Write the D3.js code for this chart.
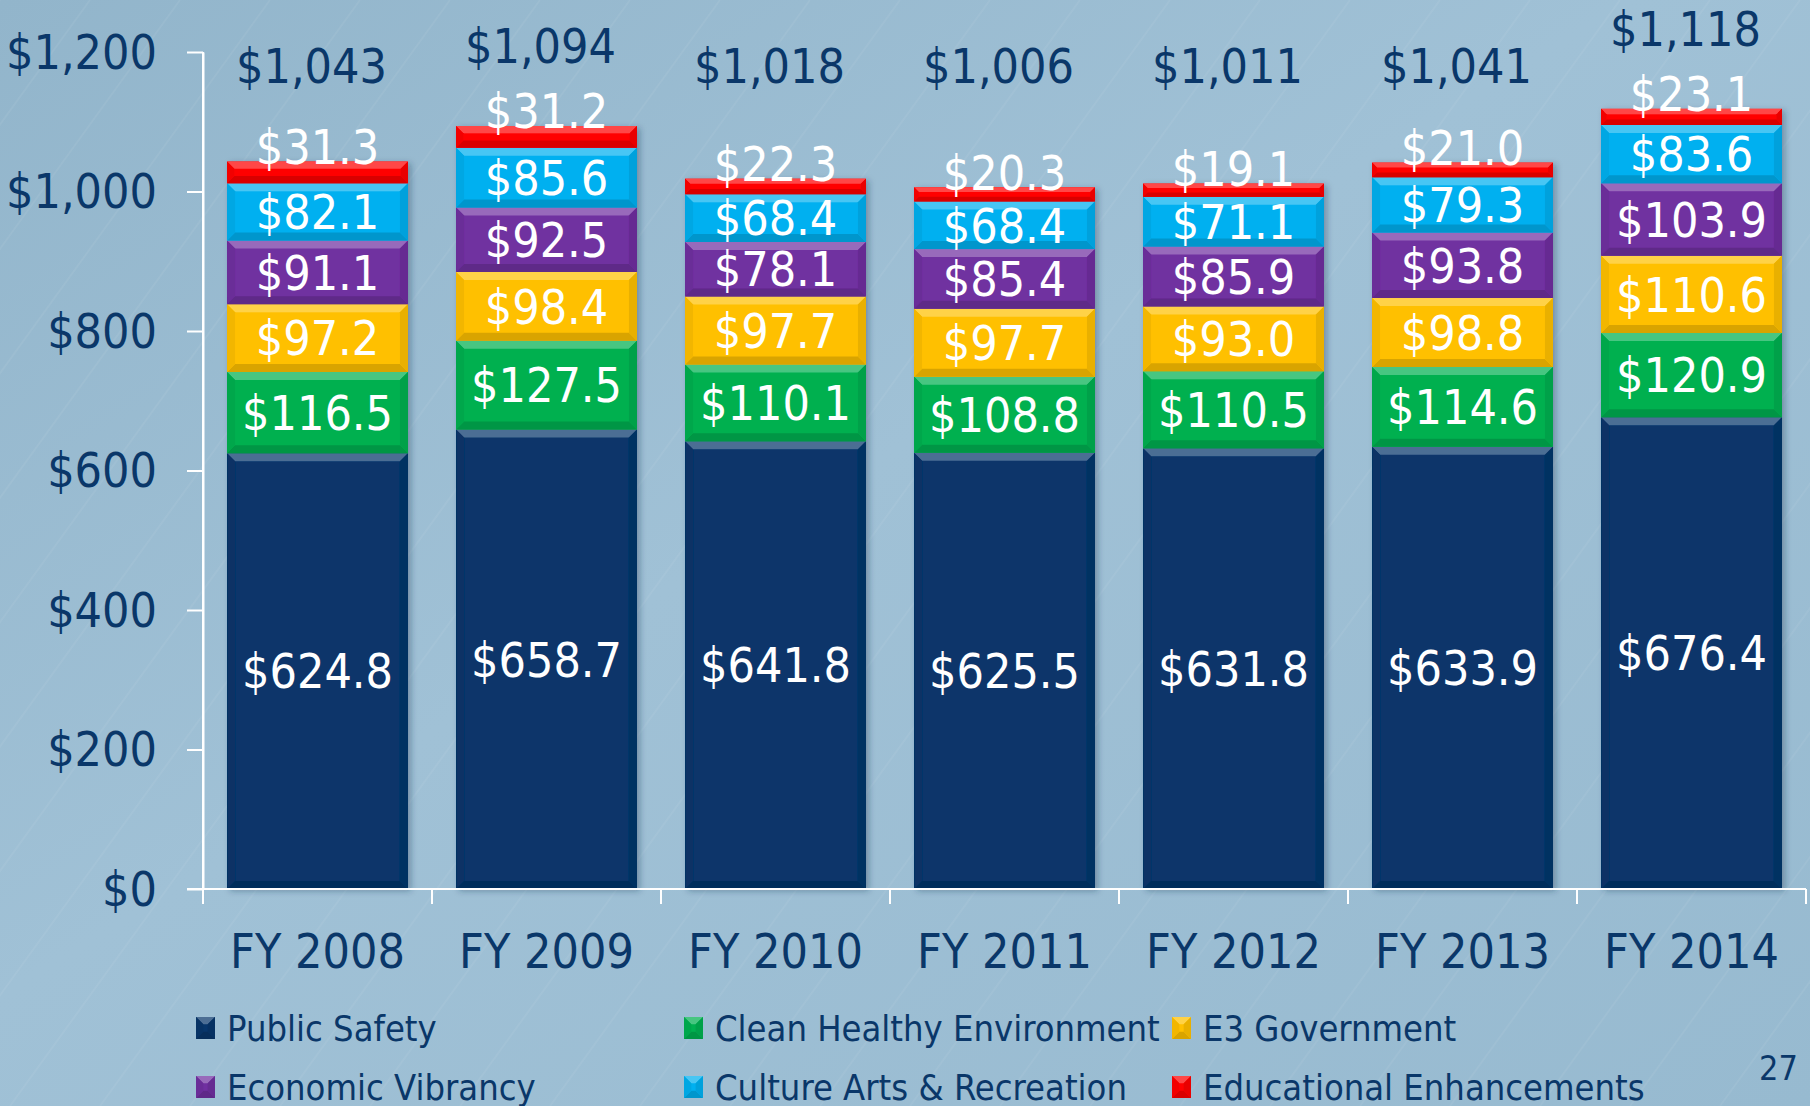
<!DOCTYPE html>
<html>
<head>
<meta charset="utf-8">
<script src="https://cdn.jsdelivr.net/npm/d3@7"></script>
<style>
  html, body { margin: 0; padding: 0; }
  body { width: 1810px; height: 1106px; overflow: hidden; }
  svg text { font-family: "DejaVu Sans Condensed", "DejaVu Sans", "Liberation Sans", sans-serif; font-stretch: condensed; }
</style>
</head>
<body>
<svg id="chart" width="1810" height="1106"></svg>
<script>
// categories + series (values in $ millions)
const years = ["FY 2008", "FY 2009", "FY 2010", "FY 2011", "FY 2012", "FY 2013", "FY 2014"];
const seriesNames = ["Public Safety", "Clean Healthy Environment", "E3 Government",
                     "Economic Vibrancy", "Culture Arts & Recreation", "Educational Enhancements"];
const seriesColors = ["#07366b", "#00b050", "#ffc000", "#7030a0", "#00b0f0", "#ff0000"];

const publicSafety   = [624.8, 658.7, 641.8, 625.5, 631.8, 633.9, 676.4];
const cleanHealthy   = [116.5, 127.5, 110.1, 108.8, 110.5, 114.6, 120.9];
const e3Government   = [97.2, 98.4, 97.7, 97.7, 93.0, 98.8, 110.6];
const econVibrancy   = [91.1, 92.5, 78.1, 85.4, 85.9, 93.8, 103.9];
const cultureArts    = [82.1, 85.6, 68.4, 68.4, 71.1, 79.3, 83.6];
const educational    = [31.3, 31.2, 22.3, 20.3, 19.1, 21.0, 23.1];
const totalLabels    = [1043, 1094, 1018, 1006, 1011, 1041, 1118];

const yTicks = [0, 200, 400, 600, 800, 1000, 1200];
const pageNumber = "27";

const seriesValues = [publicSafety, cleanHealthy, e3Government, econVibrancy, cultureArts, educational];

const navyText = "#0a3769";

const svg = d3.select("svg#chart"),
    width = +svg.attr("width"),
    height = +svg.attr("height");

// background
const defs = svg.append("defs");
const bg = defs.append("linearGradient").attr("id", "bg")
    .attr("x1", 0).attr("y1", 0).attr("x2", 1).attr("y2", 1);
bg.append("stop").attr("offset", "0%").attr("stop-color", "#92b5cb");
bg.append("stop").attr("offset", "45%").attr("stop-color", "#a0c1d6");
bg.append("stop").attr("offset", "100%").attr("stop-color", "#97bad0");

const shadow = defs.append("filter").attr("id", "shadow")
    .attr("x", "-5%").attr("y", "-5%").attr("width", "115%").attr("height", "115%");
shadow.append("feDropShadow").attr("dx", 3).attr("dy", 2).attr("stdDeviation", 3)
    .attr("flood-color", "#1d3550").attr("flood-opacity", 0.35);

svg.append("rect").attr("width", width).attr("height", height).attr("fill", "url(#bg)");

// faint streak texture
const streaks = svg.append("g").attr("stroke", "#ffffff").attr("stroke-opacity", 0.06);
d3.range(0, 2600, 90).forEach(s => {
    streaks.append("line").attr("x1", s - 800).attr("y1", height).attr("x2", s).attr("y2", 0)
        .attr("stroke-width", 2);
});

// scales
const y = d3.scaleLinear().domain([0, 1200]).range([889, 52]);
const x = d3.scaleBand().domain(years).range([203, 1806])
    .paddingInner(0.21).paddingOuter(0.105);

// data table for the stack
const table = years.map((yr, i) => {
    const row = {year: yr};
    seriesNames.forEach((s, k) => row[s] = seriesValues[k][i]);
    return row;
});
const stacked = d3.stack().keys(seriesNames)(table);

// bars
const bars = svg.append("g").attr("filter", "url(#shadow)");
const barsTop = svg.append("g");

function bevelSegment(g, x0, y0, w, h, color) {
    const x1 = x0 + w, y1 = y0 + h;
    const b = Math.min(8, h / 3);
    const c = d3.color(color);
    g.append("rect").attr("x", x0).attr("y", y0).attr("width", w).attr("height", h).attr("fill", color);
    const pts = a => a.map(p => p.join(",")).join(" ");
    // top (light)
    g.append("polygon")
        .attr("points", pts([[x0, y0], [x1, y0], [x1 - b, y0 + b], [x0 + b, y0 + b]]))
        .attr("fill", d3.interpolateRgb(color, "#ffffff")(0.28));
    // bottom (dark)
    g.append("polygon")
        .attr("points", pts([[x0, y1], [x1, y1], [x1 - b, y1 - b], [x0 + b, y1 - b]]))
        .attr("fill", c.darker(0.45));
    // left + right sides
    g.append("polygon")
        .attr("points", pts([[x0, y0], [x0 + b, y0 + b], [x0 + b, y1 - b], [x0, y1]]))
        .attr("fill", c.darker(0.15));
    g.append("polygon")
        .attr("points", pts([[x1, y0], [x1 - b, y0 + b], [x1 - b, y1 - b], [x1, y1]]))
        .attr("fill", c.darker(0.25));
}

stacked.forEach((layer, k) => {
    layer.forEach((d, i) => {
        const yr = years[i];
        const g = bars.append("g");
        bevelSegment(g, x(yr), y(d[1]), x.bandwidth(), y(d[0]) - y(d[1]), seriesColors[k]);
    });
});

// axes
const yAxis = d3.axisLeft(y).tickValues(yTicks).tickSize(16).tickSizeOuter(0).tickPadding(30)
    .tickFormat(d => "$" + d3.format(",")(d));
const yAxisG = svg.append("g").attr("transform", `translate(${x.range()[0]},0)`).call(yAxis);
yAxisG.selectAll("path, line").attr("stroke", "#ffffff").attr("stroke-width", 2);
yAxisG.selectAll("text").attr("fill", navyText).attr("font-size", 48)
    .style("font-family", null).attr("dy", "0.34em");

// x axis baseline + category boundary ticks
const xAxisG = svg.append("g").attr("stroke", "#ffffff").attr("stroke-width", 2);
xAxisG.append("line").attr("x1", x.range()[0] - 16).attr("x2", x.range()[1])
    .attr("y1", y(0)).attr("y2", y(0));
d3.range(years.length + 1).forEach(i => {
    const bx = x.range()[0] + i * x.step();
    xAxisG.append("line").attr("x1", bx).attr("x2", bx).attr("y1", y(0)).attr("y2", y(0) + 15);
});
xAxisG.append("line").attr("x1", x.range()[0]).attr("x2", x.range()[0])
    .attr("y1", y(1200)).attr("y2", y(0));

svg.append("g").selectAll("text").data(years).join("text")
    .attr("x", d => x(d) + x.bandwidth() / 2)
    .attr("y", y(0) + 63)
    .attr("dy", "0.34em")
    .attr("text-anchor", "middle")
    .attr("font-size", 48)
    .attr("fill", navyText)
    .text(d => d);

// segment labels
const labels = svg.append("g").attr("text-anchor", "middle").attr("fill", "#ffffff").attr("font-size", 48);
stacked.forEach((layer, k) => {
    layer.forEach((d, i) => {
        const yr = years[i];
        const last = k === stacked.length - 1;
        const cy = last ? y(d[1]) - 15 : (y(d[0]) + y(d[1])) / 2;
        labels.append("text")
            .attr("x", x(yr) + x.bandwidth() / 2)
            .attr("y", cy)
            .attr("dy", "0.36em")
            .text("$" + d3.format(".1f")(d[1] - d[0]));
    });
});

// totals above bars
svg.append("g").selectAll("text").data(totalLabels).join("text")
    .attr("x", (d, i) => x(years[i]) + x.bandwidth() / 2 - 6)
    .attr("y", d => Math.min(y(d) - 80, 66))
    .attr("dy", "0.36em")
    .attr("text-anchor", "middle")
    .attr("font-size", 48)
    .attr("fill", navyText)
    .text(d => "$" + d3.format(",")(d));

// legend
const legend = svg.append("g");
seriesNames.forEach((s, k) => {
    const lx = 196 + (k % 3) * 488;
    const ly = 1028 + Math.floor(k / 3) * 59;
    const g = legend.append("g");
    bevelSegment(g, lx, ly - 11, 19, 22, seriesColors[k]);
    g.append("text").attr("x", lx + 31).attr("y", ly).attr("dy", "0.36em")
        .attr("font-size", 36).attr("fill", navyText).text(s);
});

// page number
svg.append("text").attr("x", 1798).attr("y", 1068).attr("dy", "0.36em")
    .attr("text-anchor", "end").attr("font-size", 34).attr("fill", navyText).text(pageNumber);
</script>
</body>
</html>
